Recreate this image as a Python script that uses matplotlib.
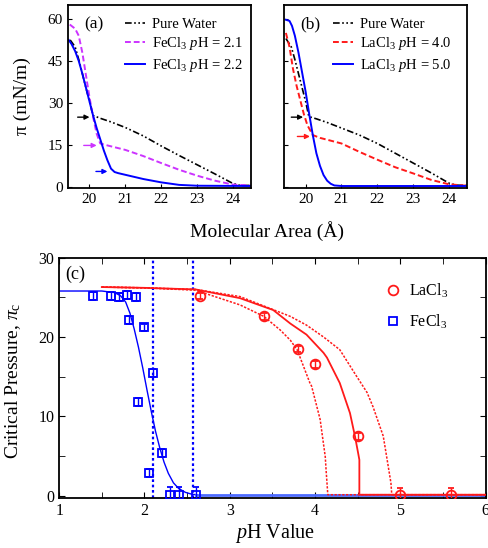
import numpy as np
import matplotlib
matplotlib.use("Agg")
import matplotlib.pyplot as plt
from matplotlib.ticker import MultipleLocator

plt.rcParams['font.family'] = ['Liberation Serif', 'DejaVu Serif']
plt.rcParams['mathtext.fontset'] = 'custom'
plt.rcParams['mathtext.rm'] = 'Liberation Serif'
plt.rcParams['mathtext.it'] = 'Liberation Serif:italic'
plt.rcParams['xtick.direction'] = 'in'
plt.rcParams['ytick.direction'] = 'in'

# ---- panel (a) isotherms, FeCl3 ----
water_a_x = [19.46, 19.6, 19.7, 19.8, 19.9, 20.0, 20.1, 20.3, 20.6, 21.0, 21.5, 22.0, 22.5, 23.0, 23.5, 24.0, 24.2, 24.5]
water_a_y = [52.5, 50, 45.5, 40.5, 35.5, 30.5, 25.5, 24.5, 23.2, 21.2, 18.2, 14.6, 11.2, 7.9, 4.6, 1.2, 0.5, 0.5]
fe21_x = [19.45, 19.6, 19.7, 19.8, 19.9, 20.0, 20.1, 20.2, 20.3, 20.5, 21.0, 21.5, 22.0, 22.5, 23.0, 23.5, 24.0, 24.5]
fe21_y = [58, 56.5, 54, 48, 40, 32, 25, 19, 15.5, 14.8, 13.2, 11, 8.5, 6.1, 4.0, 2.2, 0.8, 0.5]
fe22_x = [19.42, 19.5, 19.6, 19.7, 19.8, 19.9, 20.0, 20.1, 20.2, 20.3, 20.4, 20.5, 20.6, 20.7, 20.8, 21.0, 21.5, 22.0, 22.5, 23.0, 24.5]
fe22_y = [52.5, 51, 48.5, 45, 40.5, 35.5, 30.5, 25.5, 21, 17, 13, 9.5, 6.5, 5.3, 4.9, 4.3, 2.8, 1.6, 0.7, 0.4, 0.3]

# ---- panel (b) isotherms, LaCl3 ----
water_b_x = [19.45, 19.6, 19.7, 19.8, 19.9, 20.0, 20.09, 20.3, 20.6, 21.0, 21.5, 22.0, 22.5, 23.0, 23.5, 24.0, 24.2, 24.5]
water_b_y = [53, 50, 45.5, 40.5, 35.5, 30.5, 25.1, 24.3, 23.0, 21.0, 18.5, 15.5, 12.0, 8.5, 5.0, 1.3, 0.6, 0.5]
la40_x = [19.45, 19.55, 19.65, 19.75, 19.85, 19.95, 20.05, 20.2, 20.4, 21.0, 21.5, 22.0, 22.5, 23.0, 23.5, 24.0, 24.5]
la40_y = [55, 50, 42, 36, 31, 26, 22, 18.5, 17.5, 15.5, 12.5, 9.7, 7.0, 4.8, 2.5, 0.9, 0.4]
la50_x = [19.45, 19.55, 19.62, 19.7, 19.8, 19.9, 20.0, 20.1, 20.2, 20.3, 20.4, 20.5, 20.6, 20.7, 20.8, 21.0, 24.5]
la50_y = [59.7, 59.3, 57.5, 54, 48, 41, 34, 26, 18.5, 12, 7.5, 4.2, 2.2, 1.1, 0.5, 0.3, 0.3]

# arrows marking the transition pressure: (x_start, x_end, y)
arrows_a = [(19.67, 20.0, 24.9, 'black'), (19.84, 20.2, 14.8, '#cc33ff'), (20.18, 20.5, 5.5, '#0000ff')]
arrows_b = [(19.6, 19.93, 24.9, 'black'), (19.77, 20.12, 18.0, '#ff1a1a')]

# ---- panel (c) critical pressure vs pH ----
fe_ph = [1.40, 1.61, 1.70, 1.80, 1.90, 1.82, 2.00, 2.10, 1.93, 2.20, 2.055, 2.30, 2.41, 2.60]
fe_pc = [25.2, 25.2, 25.0, 25.3, 25.0, 22.1, 21.2, 15.4, 11.8, 5.4, 2.8, 0.1, 0.1, 0.1]
fe_err = [0.5, 0.5, 0.5, 0.5, 0.5, 0.5, 0.5, 0.5, 0.5, 0.5, 0.5, 1.0, 1.0, 1.0]
la_ph = [2.65, 3.40, 3.80, 4.00, 4.50, 5.00, 5.60]
la_pc = [25.2, 22.6, 18.45, 16.55, 7.45, 0.1, 0.1]
la_err = [0.4, 0.4, 0.4, 0.4, 0.4, 0.9, 0.9]

fe_fit_ph = [1.0, 1.5, 1.65, 1.72, 1.78, 1.83, 1.88, 1.93, 1.98, 2.03, 2.08, 2.13, 2.18, 2.23, 2.28, 2.34, 2.40, 2.48, 2.56, 2.62]
fe_fit = [25.8, 25.8, 25.6, 25.2, 24.4, 23.0, 21.0, 18.7, 16.1, 13.3, 10.6, 8.1, 6.0, 4.2, 2.8, 1.6, 0.9, 0.4, 0.15, 0.1]
fe_base_ph = [2.6, 6.0]
fe_base = [0.1, 0.1]

la_fit_ph = [1.5, 2.0, 2.6, 3.12, 3.51, 3.71, 3.90, 4.10, 4.14, 4.29, 4.41, 4.47, 4.51, 4.52, 4.52, 6.0]
la_fit = [26.3, 26.2, 26.0, 24.9, 23.4, 21.7, 20.3, 18.0, 17.4, 14.2, 10.4, 7.4, 5.1, 4.5, 0.1, 0.1]
la_hi_ph = [1.5, 2.0, 2.6, 3.12, 3.71, 3.90, 4.10, 4.29, 4.49, 4.61, 4.68, 4.80, 4.84, 4.89, 4.90, 6.0]
la_hi = [26.3, 26.2, 26.0, 25.1, 22.6, 21.5, 20.0, 18.4, 15.0, 13.0, 11.2, 7.5, 4.9, 1.6, 0.1, 0.1]
la_lo_ph = [1.5, 2.0, 2.6, 3.12, 3.40, 3.59, 3.71, 3.79, 3.94, 3.96, 4.06, 4.12, 4.13, 4.15, 6.0]
la_lo = [26.3, 26.2, 25.9, 24.05, 22.6, 20.9, 19.6, 18.4, 14.2, 13.8, 9.6, 4.9, 3.2, 0.1, 0.1]

fe_vlines = [2.10, 2.57]

BLUE = '#0000ff'
RED = '#ff1a1a'
MAG = '#cc33ff'
dashdot2 = (0, (4, 1.5, 1, 1.5, 1, 1.5))

fig = plt.figure(figsize=(4.89, 5.48), dpi=100)
ax_a = fig.add_axes([0.139, 0.657, 0.374, 0.334])
ax_b = fig.add_axes([0.581, 0.657, 0.374, 0.334])
ax_c = fig.add_axes([0.121, 0.0907, 0.872, 0.439])

ax_a.plot(water_a_x, water_a_y, color='black', lw=1.2, linestyle=dashdot2, label='Pure Water')
ax_a.plot(fe21_x, fe21_y, color=MAG, lw=1.4, linestyle=(0, (3, 1.5)), label='FeCl$_3$ $p$H = 2.1')
ax_a.plot(fe22_x, fe22_y, color=BLUE, lw=1.4, label='FeCl$_3$ $p$H = 2.2')
for x0, x1, y, c in arrows_a:
    ax_a.annotate('', xy=(x1, y), xytext=(x0, y),
                  arrowprops=dict(arrowstyle='-|>', color=c, lw=1, mutation_scale=7, shrinkA=0, shrinkB=0))

ax_b.plot(water_b_x, water_b_y, color='black', lw=1.2, linestyle=dashdot2, label='Pure Water')
ax_b.plot(la40_x, la40_y, color=RED, lw=1.4, linestyle=(0, (3, 1.5)), label='LaCl$_3$ $p$H = 4.0')
ax_b.plot(la50_x, la50_y, color=BLUE, lw=1.4, label='LaCl$_3$ $p$H = 5.0')
for x0, x1, y, c in arrows_b:
    ax_b.annotate('', xy=(x1, y), xytext=(x0, y),
                  arrowprops=dict(arrowstyle='-|>', color=c, lw=1, mutation_scale=7, shrinkA=0, shrinkB=0))

for ax, lab, lx in [(ax_a, '(a)', 0.31), (ax_b, '(b)', 0.266)]:
    ax.set_xlim(19.4, 24.5)
    ax.set_ylim(-0.4, 65)
    ax.set_xticks([20, 21, 22, 23, 24])
    ax.set_yticks([0, 15, 30, 45, 60])
    ax.tick_params(labelsize=11, length=3)
    for s in ax.spines.values():
        s.set_linewidth(1.3)
    ax.text(0.09, 0.935, lab, transform=ax.transAxes, fontsize=12.5, ha='left', va='top')
    ax.legend(loc='upper left', bbox_to_anchor=(lx, 0.93), frameon=False, fontsize=10.5,
              borderpad=0, borderaxespad=0, handlelength=1.4, handletextpad=0.5, labelspacing=0.3)
ax_b.set_yticklabels([])
ax_a.set_ylabel('π (mN/m)', fontsize=14)
ax_a.yaxis.set_label_coords(-0.2, 0.5)
fig.text(0.547, 0.578, 'Molecular Area (Å)', fontsize=14, ha='center', va='center')

# panel (c)
ax_c.plot(la_fit_ph, la_fit, color=RED, lw=1.3, zorder=3)
ax_c.plot(la_hi_ph, la_hi, color=RED, lw=1.1, linestyle=(0, (1.5, 1)), zorder=3)
ax_c.plot(la_lo_ph, la_lo, color=RED, lw=1.1, linestyle=(0, (1.5, 1)), zorder=3)
ax_c.plot(fe_fit_ph, fe_fit, color=BLUE, lw=1.0, zorder=2)
ax_c.plot(fe_base_ph, fe_base, color='#4d6bff', lw=2.0, zorder=2)
for v in fe_vlines:
    ax_c.axvline(v, color=BLUE, lw=1.6, linestyle=(0, (1.2, 1.2)), zorder=1)
ax_c.errorbar(la_ph, la_pc, yerr=la_err, fmt='o', ms=7, mfc='none', mec=RED, mew=1.3,
              ecolor=RED, elinewidth=1, capsize=2.5, label='LaCl$_3$', zorder=4)
ax_c.errorbar(fe_ph, fe_pc, yerr=fe_err, fmt='s', ms=5.5, mfc='none', mec=BLUE, mew=1.3,
              ecolor=BLUE, elinewidth=1, capsize=2, label='FeCl$_3$', zorder=4)

ax_c.set_xlim(1, 6)
ax_c.set_ylim(-0.35, 30)
ax_c.xaxis.set_major_locator(MultipleLocator(1))
ax_c.xaxis.set_minor_locator(MultipleLocator(0.5))
ax_c.yaxis.set_major_locator(MultipleLocator(10))
ax_c.yaxis.set_minor_locator(MultipleLocator(5))
ax_c.tick_params(which='both', top=True, right=True, labelsize=11.5, length=4)
for s in ax_c.spines.values():
    s.set_linewidth(1.3)
ax_c.text(0.015, 0.965, '(c)', transform=ax_c.transAxes, fontsize=13, ha='left', va='top')
ax_c.set_xlabel('$p$H Value', fontsize=14.5)
ax_c.xaxis.set_label_coords(0.506, -0.1)
ax_c.set_ylabel('Critical Pressure, $\\pi_{\\rm c}$', fontsize=14)
ax_c.yaxis.set_label_coords(-0.085, 0.49)
h, l = ax_c.get_legend_handles_labels()
h = [x[0] for x in h]
ax_c.legend(h, l, loc='upper left', bbox_to_anchor=(0.765, 0.9), frameon=False, fontsize=11.5,
            borderpad=0, borderaxespad=0, handlelength=1.0, handletextpad=0.5, labelspacing=0.75)

fig.savefig('out.png', dpi=100)
